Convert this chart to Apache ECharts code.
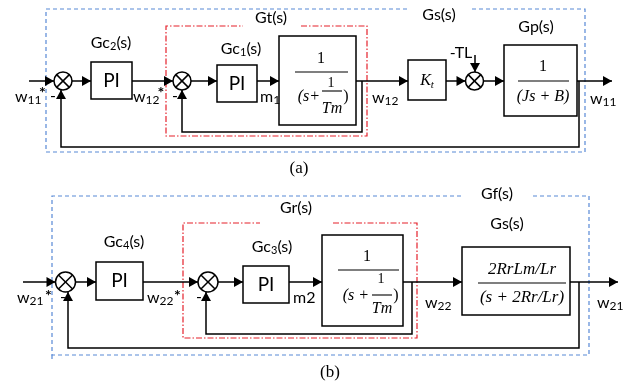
<!DOCTYPE html>
<html><head><meta charset="utf-8">
<script src="https://cdn.jsdelivr.net/npm/echarts@6/dist/echarts.min.js"></script>
<style>html,body{margin:0;padding:0;background:#fff}#c{width:633px;height:387px}</style>
</head><body><div id="c"></div>
<script>
// ---- Text content of the two block diagrams ----
const titlesA = [['Gc','2','(s)'], ['Gc','1','(s)'], ['Gt','','(s)'], ['Gs','','(s)'], ['Gp','','(s)']];
const titlesB = [['Gc','4','(s)'], ['Gc','3','(s)'], ['Gr','','(s)'], ['Gf','','(s)'], ['Gs','','(s)']];
const signalsA = [['w','11'], ['w','12'], ['m','1'], ['w','12'], ['w','11']];
const signalsB = [['w','21'], ['w','22'], ['m2',''], ['w','22'], ['w','21']];
const controller = 'PI';
const captions = ['(a)', '(b)'];

const SANS = 'Lato, "Open Sans", sans-serif';
const SERIF = '"Liberation Serif", "DejaVu Serif", serif';
const els = [];
const LW = 1.5;
const cv = document.createElement('canvas').getContext('2d');
function tw(s, font){ cv.font = font; return cv.measureText(s).width; }

function rect(x,y,w,h){ els.push({type:'rect', shape:{x,y,width:w,height:h}, style:{fill:'#fff', stroke:'#000', lineWidth:LW}, z:2}); }
function pl(points, stroke, dash, lw){ els.push({type:'polyline', shape:{points}, style:{stroke:stroke||'#000', lineWidth:lw||LW, fill:null, lineDash:dash||null}, z:dash?1:3}); }
function head(x,y,dir){
  const L=9, W=5; let p;
  if(dir==='r') p=[[x,y],[x-L,y-W],[x-L,y+W]];
  else if(dir==='u') p=[[x,y],[x-W,y+L],[x+W,y+L]];
  else p=[[x,y],[x-W,y-L],[x+W,y-L]];
  els.push({type:'polygon', shape:{points:p}, style:{fill:'#000'}, z:4});
}
function arrow(pts, dir){ pl(pts); const t=pts[pts.length-1]; head(t[0],t[1],dir); }
function sum(cx,cy,r){
  els.push({type:'circle', shape:{cx,cy,r}, style:{fill:'#fff', stroke:'#000', lineWidth:LW}, z:3});
  const d=r*0.7071;
  els.push({type:'line', shape:{x1:cx-d,y1:cy-d,x2:cx+d,y2:cy+d}, style:{stroke:'#000', lineWidth:LW}, z:4});
  els.push({type:'line', shape:{x1:cx-d,y1:cy+d,x2:cx+d,y2:cy-d}, style:{stroke:'#000', lineWidth:LW}, z:4});
}
function text(x,y,s,font,align){
  els.push({type:'text', x, y, style:{text:s, font, fill:'#000', textAlign:align||'center', textVerticalAlign:'middle'}, z:5});
}
// runs: [[text, font, dy], ...] laid out left to right; align 'center' or 'left'
function runs(x,y,parts,align){
  let total=0; parts.forEach(p=>{ if(p[0]) total+=tw(p[0],p[1]); });
  let cx = align==='left' ? x : x-total/2;
  parts.forEach(p=>{ if(!p[0]) return; text(cx, y+(p[2]||0), p[0], p[1], 'left'); cx+=tw(p[0],p[1]); });
}
function title(x,y,t){ runs(x,y,[[t[0],'16px '+SANS,0],[t[1],'11px '+SANS,3],[t[2],'16px '+SANS,0]]); }
function signal(x,y,s){ runs(x,y,[[s[0],'16px '+SANS,0],[s[1],'12px '+SANS,3]],'left'); }
function dashBox(l,t,r,b,g1,g2,color,dash){
  pl([[g2,t],[r,t],[r,b],[l,b],[l,t],[g1,t]], color, dash, 1.2);
}
function fracLine(x1,x2,y){ els.push({type:'line', shape:{x1,y1:y,x2,y2:y}, style:{stroke:'#000', lineWidth:1.1}, z:5}); }

const BLUE='#5889d6', RED='#e5212b';
const BD=[4,3], RD=[6,2,1.5,2];
const SI = 'italic 16px '+SERIF, SU='16px '+SERIF, SIs='italic 14px '+SERIF, SUs='14px '+SERIF;
const STAR = 'bold 16px '+SANS, PIF = '19px '+SANS;

// ================= (a) =================
const ya = 81;
dashBox(46,9,585,152,407,472,BLUE,BD);
dashBox(166,26,367,136,243,301,RED,RD);
arrow([[29,ya],[54,ya]],'r');
sum(63,ya,9);
arrow([[72,ya],[91,ya]],'r');
rect(91,62,41,37); text(111.5,81,controller,PIF);
arrow([[132,ya],[173,ya]],'r');
sum(182,ya,9);
arrow([[191,ya],[217,ya]],'r');
rect(217,65,40,37); text(237,84,controller,PIF);
arrow([[257,ya],[279,ya]],'r');
rect(279,36,77,89);
text(321,59,'1',SU); fracLine(295,348,72);
text(320,97,'(s+',SI,'right'); text(331,83,'1',SUs); fracLine(322,342,91); text(332,109,'Tm',SI); text(346,97,')',SU);
arrow([[356,ya],[408,ya]],'r');
arrow([[362,ya],[362,132],[182,132],[182,90]],'u');
rect(408,60,38,40); runs(427,81,[['K',SI,0],['t','italic 11px '+SERIF,4]]);
arrow([[446,ya],[465.5,ya]],'r');
sum(474.5,ya,9);
arrow([[475,55],[475,72]],'d');
arrow([[483.5,ya],[504,ya]],'r');
rect(504,45,73,71);
text(543,67,'1',SU); fracLine(518,569,81); text(543,97,'(Js + B)',SI);
arrow([[577,ya],[612,ya]],'r');
arrow([[579,ya],[579,147],[61,147],[61,90]],'u');
title(111,43,titlesA[0]); title(241,49,titlesA[1]); title(271,18,titlesA[2]); title(439,15,titlesA[3]); title(536,27,titlesA[4]);
signal(15,97,signalsA[0]); signal(133,97,signalsA[1]); signal(260,97,signalsA[2]); signal(372,98,signalsA[3]); signal(590,99,signalsA[4]);
text(42.5,93,'*',STAR); text(161,93,'*',STAR);
text(53,96,'-','16px '+SANS); text(175,96,'-','16px '+SANS);
text(461,53,'-TL','16px '+SANS);
text(299,169,captions[0],'17px '+SERIF);

// ================= (b) =================
const yb = 282;
dashBox(52,196,589,355,463,533,BLUE,BD);
pl([[52,355],[52,361]],BLUE,BD,1.2);
dashBox(183,223,417,338,260,333,RED,RD);
arrow([[23,yb],[55.5,yb]],'r');
sum(65.5,yb,10);
arrow([[75.5,yb],[96,yb]],'r');
rect(96,262,47,38); text(119.5,281,controller,PIF);
arrow([[143,yb],[198,yb]],'r');
sum(208,yb,10);
arrow([[218,yb],[243,yb]],'r');
rect(243,266,46,37); text(266,285,controller,PIF);
arrow([[289,yb],[322,yb]],'r');
rect(322,235,81,91);
text(367,257,'1',SU); fracLine(338,399,270);
text(369,296,'(s +',SI,'right'); text(381,279,'1',SUs); fracLine(372,392,295); text(382,309,'Tm',SI); text(396,296,')',SU);
arrow([[403,yb],[462,yb]],'r');
arrow([[412,yb],[412,334],[206,334],[206,292]],'u');
rect(462,247,108,68);
text(522,270,'2RrLm/Lr','italic 17px '+SERIF); fracLine(478,566,283); text(522,298,'(s + 2Rr/Lr)','italic 17px '+SERIF);
arrow([[570,yb],[618,yb]],'r');
arrow([[579,yb],[579,348],[68,348],[68,292]],'u');
title(124,242,titlesB[0]); title(272,247,titlesB[1]); title(296,208,titlesB[2]); title(497,194,titlesB[3]); title(507,224,titlesB[4]);
signal(17,298,signalsB[0]); signal(147,298,signalsB[1]); signal(293,298,signalsB[2]); signal(425,303,signalsB[3]); signal(597,303,signalsB[4]);
text(48.5,296,'*',STAR); text(177.5,296,'*',STAR);
text(63,297,'-','16px '+SANS); text(199,297,'-','16px '+SANS);
text(330,373,captions[1],'17px '+SERIF);

const chart = echarts.init(document.getElementById('c'), null, {renderer:'canvas'});
chart.setOption({backgroundColor:'#fff', animation:false, graphic:{elements:els}});
</script></body></html>
